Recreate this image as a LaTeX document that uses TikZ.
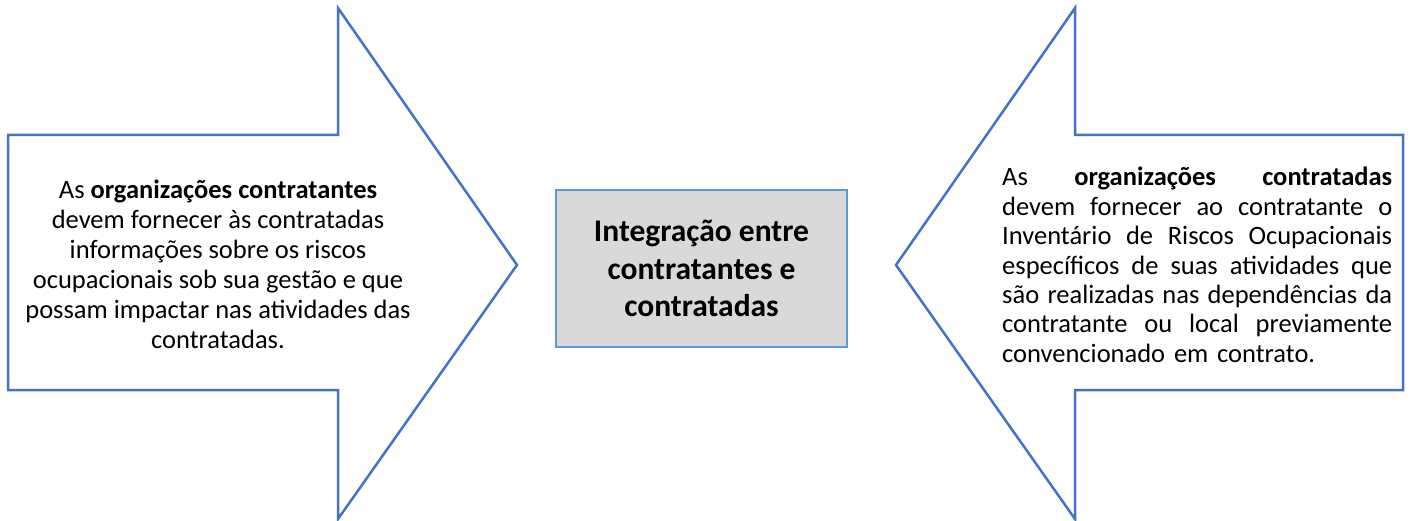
\documentclass[tikz,border=0pt]{standalone}
\usepackage{fontspec}
\setmainfont{Carlito}
\definecolor{arrowblue}{HTML}{4472C4}
\definecolor{boxblue}{HTML}{5B9BD5}
\definecolor{boxgray}{HTML}{D9D9D9}
\newcommand{\jline}[1]{\leavevmode\hbox to 390pt{\spaceskip=0pt\xspaceskip=0pt\relax #1}}
\tikzset{
  arrowshape/.style={draw=arrowblue, line width=2.5pt, fill=white, line join=miter},
  sidetext/.style={font=\fontsize{26.5}{30}\selectfont, inner sep=0pt},
  centerbox/.style={draw=boxblue, line width=2.5pt, fill=boxgray, minimum width=291pt, minimum height=157pt, align=center, font=\fontsize{31.5}{37.5}\selectfont\bfseries}
}
\begin{document}
\begin{tikzpicture}[x=1pt,y=-1pt]
\useasboundingbox (0,0) rectangle (1411,521);
% left arrow
\draw[arrowshape] (8,135) -- (338,135) -- (338,8) -- (517,265) -- (338,519) -- (338,390) -- (8,390) -- cycle;
% right arrow
\draw[arrowshape] (1403,135) -- (1075,135) -- (1075,8) -- (896,265) -- (1075,519) -- (1075,390) -- (1403,390) -- cycle;
\node[sidetext, align=center] (lefttext) at (218,264) {As \textbf{organizações contratantes}\\devem fornecer às contratadas\\informações sobre os riscos\\ocupacionais sob sua gestão e que\\possam impactar nas atividades das\\contratadas.};
\node[sidetext, anchor=west, text width=390pt, align=left, font=\fontsize{26.5}{29.4}\selectfont] (righttext) at (1002,265) {%
\jline{As \textbf{organizações} \textbf{contratadas}}\\
\jline{devem fornecer ao contratante o}\\
\jline{Inventário de Riscos Ocupacionais}\\
\jline{específicos de suas atividades que}\\
\jline{são realizadas nas dependências da}\\
\jline{contratante ou local previamente}\\
convencionado em contrato.};
\node[centerbox] (center) at (701.5,268.5) {Integração entre\\contratantes e\\contratadas};
\end{tikzpicture}
\end{document}
